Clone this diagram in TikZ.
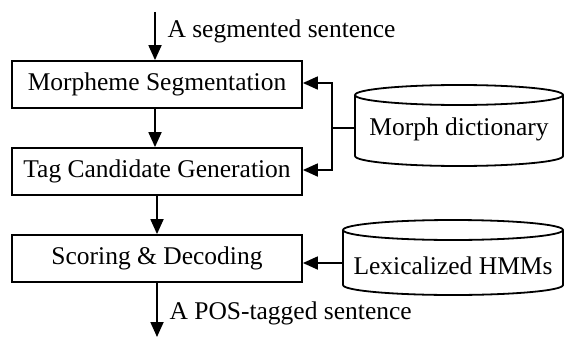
\documentclass[tikz,border=0pt]{standalone}
\usepackage{fontspec}
\setmainfont{Liberation Serif}
\usetikzlibrary{arrows.meta}
\begin{document}
\begin{tikzpicture}[x=1pt,y=-1pt,
  every node/.style={font=\fontsize{25.5}{28}\selectfont},
  box/.style={draw,line width=1.8pt,minimum width=290pt,minimum height=47pt,inner sep=0pt},
  txt/.style={inner sep=0pt},
  conn/.style={line width=1.8pt,-{Triangle[length=15pt,width=13pt]}},
  plain/.style={line width=1.8pt}]
\useasboundingbox (0,0) rectangle (564,337);
\node[box] (ms) at (157,84.5) {Morpheme Segmentation};
\node[box] (tc) at (157,171.5) {Tag Candidate Generation};
\node[box] (sd) at (157,258.5) {Scoring \& Decoding};
% Morph dictionary cylinder
\draw[plain] (459,95) ellipse [x radius=104, y radius=10];
\draw[plain] (355,95) -- (355,156) arc [start angle=180, end angle=0, x radius=104, y radius=10] -- (563,95);
\node[txt] (md) at (459,129) {Morph dictionary};
\coordinate (mdw) at (355,128);
% Lexicalized HMMs cylinder
\draw[plain] (453,230) ellipse [x radius=110, y radius=10];
\draw[plain] (343,230) -- (343,285) arc [start angle=180, end angle=0, x radius=110, y radius=10] -- (563,230);
\node[txt] (lh) at (453,266) {Lexicalized HMMs};
\coordinate (lhw) at (343,263);
\coordinate (in) at (155,12);
\coordinate (out) at (157,337);
\coordinate (br) at (332,128);
\node[anchor=west] (l1) at (164,31) {A segmented sentence};
\node[anchor=west] (l2) at (166,313) {A POS-tagged sentence};
\draw[conn] (in) -- (in |- ms.north);
\draw[conn] (ms.south -| in) -- (tc.north -| in);
\draw[conn] (tc.south) -- (sd.north);
\draw[conn] (sd.south) -- (out);
\draw[plain] (mdw) -- (br);
\draw[conn] (br) |- ([yshift=1.5pt]ms.east);
\draw[conn] (br) |- ([yshift=1.5pt]tc.east);
\draw[conn] (lhw) -- (sd.east |- lhw);
\end{tikzpicture}
\end{document}
